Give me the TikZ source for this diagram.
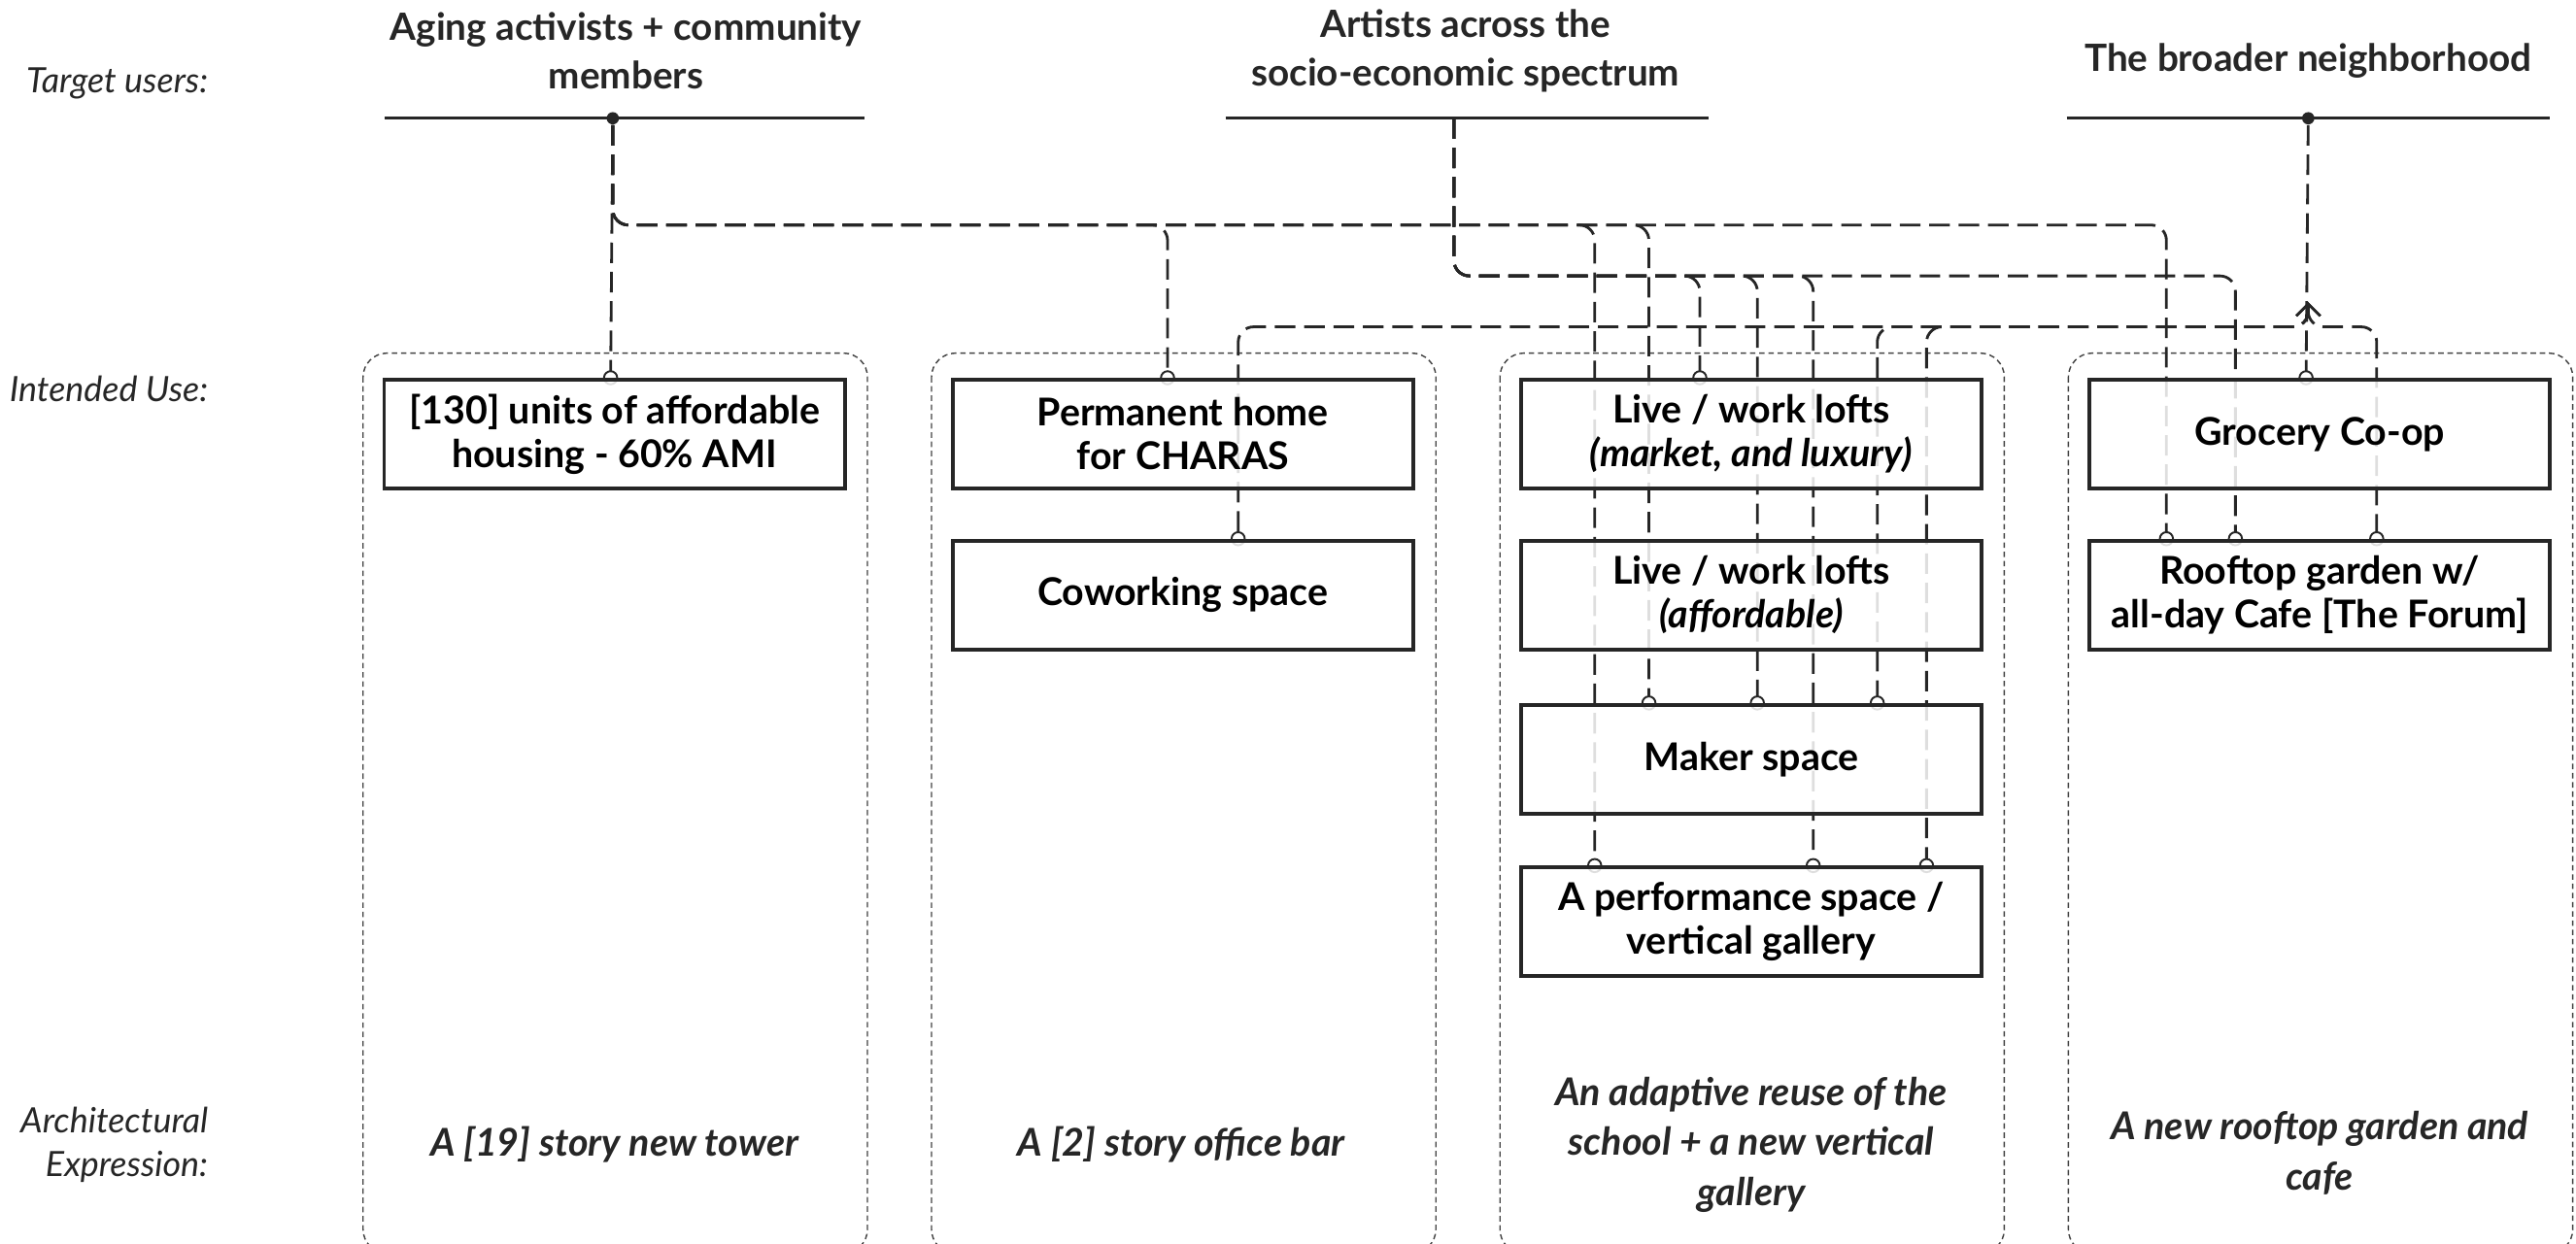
\documentclass[tikz,border=0pt]{standalone}
\usepackage{fontspec}
\setmainfont{Lato}
\usetikzlibrary{positioning, calc, arrows.meta, backgrounds}

\begin{document}
\begin{tikzpicture}[x=0.016913cm, y=-0.016913cm]
  \tikzstyle{usebox}=[draw=black!85, line width=1.1pt, fill=white, fill opacity=0.85, text opacity=1, minimum width=4.74cm, minimum height=1.12cm, anchor=north, align=center, inner sep=2pt, font=\fontsize{11.2}{12.8}\selectfont\bfseries]
  \tikzstyle{group}=[align=center, text=black!85, font=\fontsize{11}{14.4}\selectfont\bfseries]
  \tikzstyle{rowlabel}=[anchor=east, align=right, inner sep=0pt, text=black!85, font=\fontsize{10.2}{12.6}\selectfont\itshape]
  \tikzstyle{expr}=[align=center, text=black!85, font=\fontsize{11.2}{14.6}\selectfont\bfseries\itshape]
  \tikzstyle{column}=[draw=black!75, line width=0.4pt, dash pattern=on 1.6pt off 1.1pt, rounded corners=7pt]
  \tikzstyle{tline}=[draw=black!85, line width=0.75pt]
  \tikzstyle{dot}=[circle, fill=black!85, inner sep=0pt, minimum size=3.6pt]
  \tikzstyle{link}=[draw=black!85, line width=0.8pt, dash pattern=on 6pt off 2.6pt, rounded corners=4.5pt, -{Circle[open, length=4.4pt, width=4.4pt, line width=0.55pt]}, shorten >=-2.2pt]
  \tikzstyle{merge}=[link, {Straight Barb[length=3.5pt, width=7pt, line width=0.7pt]}-{Circle[open, length=4.4pt, width=4.4pt, line width=0.55pt]}]

  \useasboundingbox (0,0) rectangle (1568,757);

  % row labels
  \node (lblTarget) at (127,51) [rowlabel] {Target users:};
  \node (lblUse) at (127,237) [rowlabel] {Intended Use:};
  \node (lblExpr) at (127,697) [rowlabel] {Architectural\\Expression:};

  % target users
  \node (gAging) at (381,31) [group] {Aging activists + community\\members};
  \node (gArtists) at (892,31) [group] {Artists across the\\socio-economic spectrum};
  \node (gNbr) at (1405,37) [group] {The broader neighborhood};
  \draw[tline] (234,72) -- (526,72);
  \draw[tline] (746,72) -- (1040,72);
  \draw[tline] (1258,72) -- (1552,72);
  \node (dAging) at (373,72) [dot] {};
  \coordinate (dArtists) at (885,72);
  \node (dNbr) at (1405,72) [dot] {};

  % intended uses
  \node (housing) at (374,230) [usebox] {[130] units of affordable\\housing - 60\% AMI};
  \node (charas) at (720,230) [usebox] {Permanent home\\for CHARAS};
  \node (cowork) at (720,328) [usebox] {Coworking space};
  \node (loftMkt) at (1066,230) [usebox] {Live / work lofts\\\textit{(market, and luxury)}};
  \node (loftAff) at (1066,328) [usebox] {Live / work lofts\\\textit{(affordable)}};
  \node (maker) at (1066,428) [usebox] {Maker space};
  \node (perform) at (1066,527) [usebox] {A performance space /\\vertical gallery};
  \node (grocery) at (1412,230) [usebox] {Grocery Co-op};
  \node (roof) at (1412,328) [usebox] {Rooftop garden w/\\all-day Cafe [The Forum]};

  % architectural expression
  \node (exTower) at (374,697) [expr] {A [19] story new tower};
  \node (exBar) at (719,697) [expr] {A [2] story office bar};
  \node (exReuse) at (1066,697) [expr] {An adaptive reuse of the\\school + a new vertical\\gallery};
  \node (exRoof) at (1412,702) [expr] {A new rooftop garden and\\cafe};

  % pins on the boxes
  \foreach \pin/\use/\dx in {pHousing/housing/139, pCharas/charas/132, pCowork/cowork/175,
    pMkt/loftMkt/110, pMakerA/maker/79, pMakerB/maker/145, pMakerC/maker/218,
    pPerfA/perform/46, pPerfB/perform/179, pPerfC/perform/248,
    pGrocery/grocery/133, pRoofA/roof/48, pRoofB/roof/90, pRoofC/roof/176}
    \coordinate (\pin) at ($(\use.north west)+(\dx,0)$);
  \coordinate (busA) at (0,137);
  \coordinate (busB) at (0,168);
  \coordinate (busC) at (0,199);
  \coordinate (tipN) at (1405,184);

  \begin{scope}[on background layer]
    % columns
    \foreach \cx in {221, 567, 913, 1259}
      \draw[column] (\cx,215) rectangle ++(307,548);

    % aging activists
    \draw[link] (dAging) -- (pHousing);
    \foreach \pin in {pCharas, pPerfA, pMakerA, pRoofA}
      \draw[link] (dAging) |- (busA -| \pin) -- (\pin);

    % artists
    \foreach \pin in {pMkt, pMakerB, pPerfB, pRoofB}
      \draw[link] (dArtists) |- (busB -| \pin) -- (\pin);

    % neighborhood
    \draw[link] (dNbr) -- (pGrocery);
    \foreach \pin in {pCowork, pMakerC, pPerfC, pRoofC}
      \draw[merge] (tipN) -- (busC -| tipN) -| (\pin);
  \end{scope}
\end{tikzpicture}
\end{document}
